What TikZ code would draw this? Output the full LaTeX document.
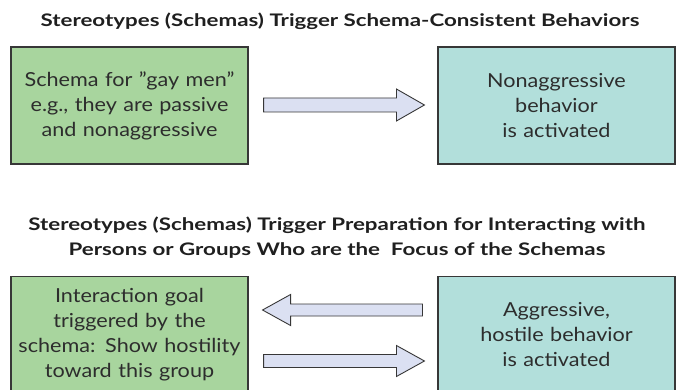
\documentclass[tikz,border=0pt]{standalone}
\usepackage{fontspec}
\usetikzlibrary{calc}
\setmainfont{Lato}
\newfontfamily\boxfont{Lato}[FakeStretch=1.12,Ligatures=TeX]
\newfontfamily\titlefont{Lato}[FakeStretch=1.29,Ligatures=TeX]
\definecolor{boxgreen}{RGB}{168,213,158}
\definecolor{boxteal}{RGB}{178,223,219}
\definecolor{arrowfill}{RGB}{219,224,242}
\definecolor{edgegray}{RGB}{55,55,55}
\definecolor{txtgray}{RGB}{45,45,45}
\begin{document}
\begin{tikzpicture}[x=1pt,y=-1pt,
  box/.style={draw=edgegray,line width=1.1pt,minimum width=237pt,minimum height=117pt,
    inner sep=0pt,text width=234pt,align=center,font=\boxfont\fontsize{19.3}{25}\selectfont,text=txtgray},
  gbox/.style={box,fill=boxgreen},
  tbox/.style={box,fill=boxteal},
  title/.style={font=\titlefont\fontsize{17.3}{25}\selectfont\bfseries,text=black!88,align=center},
  blockarrow/.style={draw=edgegray,line width=0.9pt,fill=arrowfill,line join=miter}]
\useasboundingbox (0,0) rectangle (680,390);
\clip (0,0) rectangle (680,390);
% titles
\node[title] (t1) at (340,21) {Stereotypes (Schemas) Trigger Schema-Consistent Behaviors};
\node[title] (t2) at (337,237.5) {Stereotypes (Schemas) Trigger Preparation for Interacting with\\ Persons or Groups Who are the\ \ Focus of the Schemas};
% boxes
\node[gbox] (a) at (129.5,105.5) {Schema for ”gay men”\\ e.g., they are passive\\ and nonaggressive};
\node[tbox] (b) at (556.5,105.5) {Nonaggressive\\ behavior\\ is activated};
\node[gbox] (c) at (129.5,335) {Interaction goal\\ triggered by the\\ schema: Show hostility\\ toward this group};
\node[tbox] (d) at (556.5,335) {Aggressive,\\ hostile behavior\\ is activated};
% arrow anchors
\coordinate (p1s) at ([xshift=15pt]a.east |- 0,105);
\coordinate (p1e) at ([xshift=-13pt]b.west |- 0,105);
\coordinate (p2s) at ([xshift=-15pt]d.west |- 0,310);
\coordinate (p2e) at ([xshift=14pt]c.east |- 0,310);
\coordinate (p3s) at ([xshift=15pt]c.east |- 0,361);
\coordinate (p3e) at ([xshift=-13pt]d.west |- 0,361);
% block arrows
\draw[blockarrow] ($(p1s)+(0,-7)$) -- ($(p1e)+(-28,-7)$) -- ($(p1e)+(-28,-16)$) -- (p1e)
  -- ($(p1e)+(-28,16)$) -- ($(p1e)+(-28,7)$) -- ($(p1s)+(0,7)$) -- cycle;
\draw[blockarrow] ($(p2s)+(0,-6)$) -- ($(p2e)+(28,-6)$) -- ($(p2e)+(28,-15.5)$) -- (p2e)
  -- ($(p2e)+(28,15.5)$) -- ($(p2e)+(28,6)$) -- ($(p2s)+(0,6)$) -- cycle;
\draw[blockarrow] ($(p3s)+(0,-6.5)$) -- ($(p3e)+(-28,-6.5)$) -- ($(p3e)+(-28,-15.5)$) -- (p3e)
  -- ($(p3e)+(-28,15.5)$) -- ($(p3e)+(-28,6.5)$) -- ($(p3s)+(0,6.5)$) -- cycle;
\end{tikzpicture}
\end{document}
